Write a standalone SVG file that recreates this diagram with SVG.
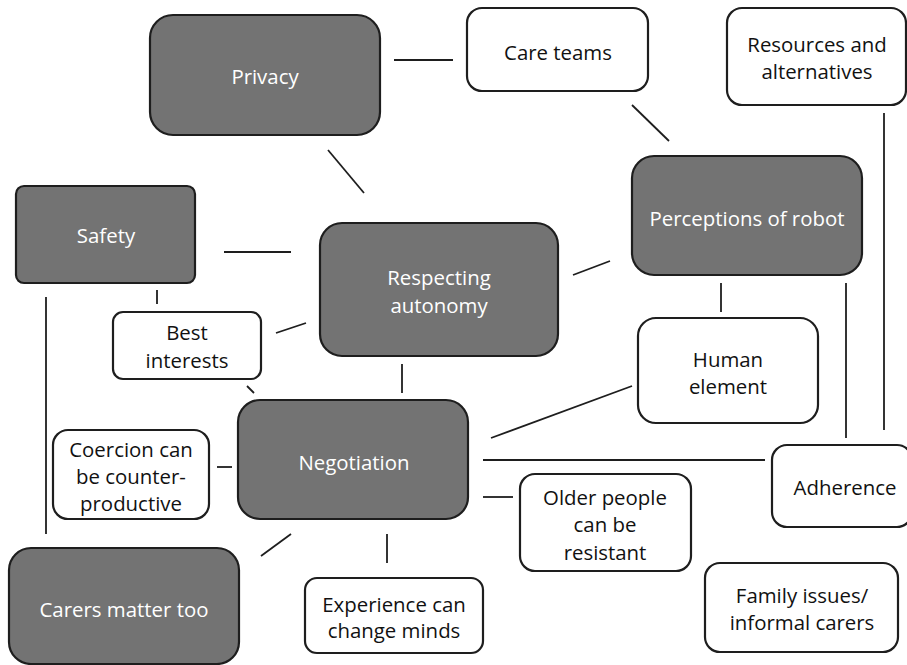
<svg xmlns="http://www.w3.org/2000/svg" width="907" height="665" viewBox="0 0 907 665">
<style>
.dark rect{fill:#737373;stroke:#1e1e1e;stroke-width:2.2}
.light rect{fill:#ffffff;stroke:#1e1e1e;stroke-width:2.2}
text{font-family:"Open Sans","Noto Sans",sans-serif;font-size:20.4px;text-anchor:middle}
.dark text{fill:#ffffff}
.light text{fill:#111111}
#connectors line{stroke:#1e1e1e;stroke-width:1.8}
</style>
<rect x="0" y="0" width="907" height="665" fill="#ffffff"/>
<g id="connectors">
<line x1="394" y1="60" x2="453" y2="60"/>
<line x1="632" y1="105" x2="669" y2="141"/>
<line x1="328" y1="150" x2="364" y2="193"/>
<line x1="224" y1="252" x2="291" y2="252"/>
<line x1="573" y1="275" x2="610" y2="261"/>
<line x1="157" y1="290" x2="157" y2="304"/>
<line x1="46" y1="297" x2="46" y2="534"/>
<line x1="276" y1="333" x2="306" y2="323"/>
<line x1="247" y1="386" x2="254" y2="393"/>
<line x1="402" y1="364" x2="402" y2="393"/>
<line x1="217" y1="467" x2="232" y2="467"/>
<line x1="261" y1="556" x2="291" y2="534"/>
<line x1="387" y1="534" x2="387" y2="563"/>
<line x1="491" y1="438" x2="632" y2="386"/>
<line x1="483" y1="460" x2="765" y2="460"/>
<line x1="483" y1="497" x2="513" y2="497"/>
<line x1="721" y1="283" x2="721" y2="312"/>
<line x1="846" y1="283" x2="846" y2="438"/>
<line x1="884" y1="113" x2="884" y2="430"/>
</g>
<g id="privacy" class="dark"><rect x="150" y="15" width="230" height="120" rx="23"/><text x="265" y="84">Privacy</text></g>
<g id="care-teams" class="light"><rect x="467" y="8" width="181" height="83" rx="15"/><text x="558" y="60">Care teams</text></g>
<g id="resources" class="light"><rect x="727" y="8" width="179" height="97" rx="15"/><text x="817" y="52">Resources and</text><text x="817" y="79">alternatives</text></g>
<g id="perceptions" class="dark"><rect x="632" y="156" width="230" height="119" rx="22"/><text x="747" y="226">Perceptions of robot</text></g>
<g id="safety" class="dark"><rect x="16" y="186" width="179" height="97" rx="8"/><text x="106" y="243">Safety</text></g>
<g id="respecting" class="dark"><rect x="320" y="223" width="238" height="133" rx="22"/><text x="439" y="285">Respecting</text><text x="439" y="313">autonomy</text></g>
<g id="best-interests" class="light"><rect x="113" y="312" width="148" height="67" rx="10"/><text x="187" y="340">Best</text><text x="187" y="368">interests</text></g>
<g id="human-element" class="light"><rect x="638" y="318" width="180" height="105" rx="18"/><text x="728" y="367">Human</text><text x="728" y="394">element</text></g>
<g id="negotiation" class="dark"><rect x="238" y="400" width="230" height="119" rx="22"/><text x="354" y="470">Negotiation</text></g>
<g id="coercion" class="light"><rect x="53" y="430" width="156" height="89" rx="15"/><text x="131" y="457">Coercion can</text><text x="131" y="484">be counter-</text><text x="131" y="511">productive</text></g>
<g id="adherence" class="light"><rect x="772" y="445" width="140" height="82" rx="15"/><text x="845" y="495">Adherence</text></g>
<g id="older-people" class="light"><rect x="520" y="474" width="171" height="97" rx="15"/><text x="605" y="505">Older people</text><text x="605" y="532">can be</text><text x="605" y="560">resistant</text></g>
<g id="carers" class="dark"><rect x="9" y="548" width="230" height="116" rx="22"/><text x="124" y="617">Carers matter too</text></g>
<g id="experience" class="light"><rect x="305" y="578" width="178" height="75" rx="12"/><text x="394" y="612">Experience can</text><text x="394" y="638">change minds</text></g>
<g id="family" class="light"><rect x="705" y="563" width="193" height="89" rx="15"/><text x="802" y="603">Family issues/</text><text x="802" y="630">informal carers</text></g>
</svg>
